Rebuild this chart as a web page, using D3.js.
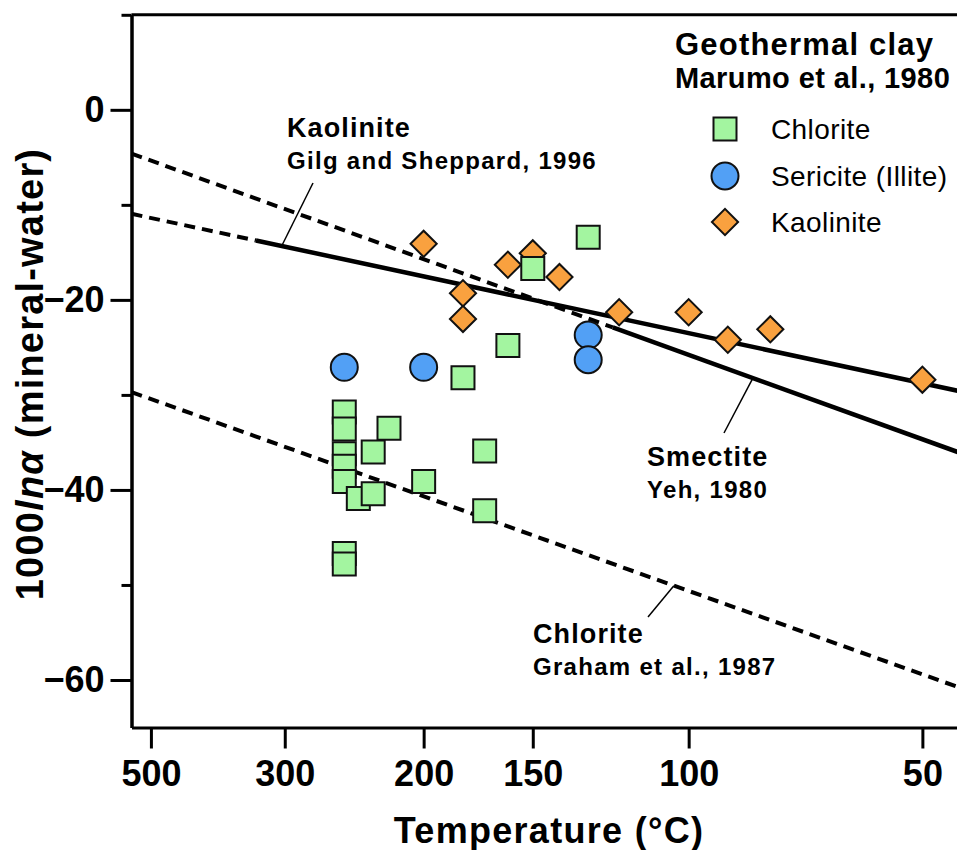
<!DOCTYPE html>
<html>
<head>
<meta charset="utf-8">
<script src="https://cdn.jsdelivr.net/npm/d3@7"></script>
<style>
body { margin: 0; background: #fff; }
svg text { font-family: "Liberation Sans", Arial, Helvetica, sans-serif; fill: #000; }
</style>
</head>
<body>
<svg id="chart" width="957" height="850"></svg>
<script>
// Geothermal clay, Marumo et al. 1980: temperature (degC) and 1000 ln a (mineral-water)
var chloriteT = [250, 250, 250, 250, 250, 250, 250, 240, 230, 230, 220, 200, 180, 170, 170, 160, 150, 130];
var chloriteD = [-31.8, -33.6, -36.2, -37.5, -39.1, -46.7, -47.8, -40.9, -40.4, -36.0, -33.5, -39.1, -28.2, -35.9, -42.2, -24.8, -16.7, -13.4];
var sericiteT = [250, 200, 130, 130];
var sericiteD = [-27.1, -27.1, -23.7, -26.3];
var kaoliniteT = [200, 180, 180, 160, 150, 140, 120, 100, 90, 80, 50];
var kaoliniteD = [-14.1, -19.3, -22.0, -16.3, -15.1, -17.6, -21.3, -21.3, -24.2, -23.1, -28.4];

// calibration lines: 1000 ln a = slope * 10^6/T^2 + icept
var lineNames = ["Kaolinite", "Smectite", "Chlorite"];
var lineRefs = ["Gilg and Sheppard, 1996", "Yeh, 1980", "Graham et al., 1987"];
var lineSlope = [-2.2, -3.71, -3.666];
var lineIcept = [-7.7, 0.86, -24.3];
var lineSolidBelow = [330, 122, -273]; // solid below this T (degC), dashed above
var lineLeaderT = [303, 84, 104];      // where the label leader touches the line

// axis ticks
var tempTicks = [500, 300, 200, 150, 100, 50];
var yTicks = [0, -20, -40, -60];
var yMinor = [10, -10, -30, -50];

var legendNames = ["Chlorite", "Sericite (Illite)", "Kaolinite"];
var colors = ["#a3f5a0", "#52a0f5", "#f9a13f"];

function toV(t) {
    // 10^6 / T^2 with T in kelvin
    var k = t + 273.15;
    return 1e6 / (k * k);
}

var svg = d3.select("#chart");

var x = d3.scaleLinear().domain([1.474, 10.064]).range([131.5, 970]);
var y = d3.scaleLinear().domain([-65, 10]).range([727.5, 14.8]);

// Axes
svg.append("g")
    .attr("transform", "translate(" + x.range()[0] + ",0)")
    .call(d3.axisLeft(y).tickValues(yTicks).tickSize(21).tickSizeOuter(0).tickPadding(6)
        .tickFormat(function (d) { return d < 0 ? "\u2212" + (-d) : d; }));
svg.append("g")
    .attr("transform", "translate(" + x.range()[0] + ",0)")
    .call(d3.axisLeft(y).tickValues(yMinor).tickSize(10).tickSizeOuter(0).tickFormat(""));

svg.append("g")
    .attr("transform", "translate(0," + y.range()[0] + ")")
    .call(d3.axisBottom(x).tickValues(tempTicks.map(toV)).tickSize(21).tickSizeOuter(0).tickPadding(12)
        .tickFormat(function (d, i) { return tempTicks[i]; }));

// top border
svg.append("line")
    .attr("x1", x.range()[0]).attr("x2", 957)
    .attr("y1", y(10)).attr("y2", y(10))
    .attr("stroke", "#000").attr("stroke-width", 3);

svg.selectAll(".domain, .tick line").attr("stroke", "#000").attr("stroke-width", 3);
svg.selectAll(".tick text")
    .style("font-size", "36px").style("font-weight", "bold");

// axis titles
svg.append("text")
    .attr("x", 549).attr("y", 843)
    .attr("text-anchor", "middle")
    .style("font-size", "36px").style("font-weight", "bold")
    .style("letter-spacing", "1.3px")
    .text("Temperature (°C)");

var ytitle = svg.append("text")
    .attr("transform", "translate(43,374) rotate(-90)")
    .attr("text-anchor", "middle")
    .style("font-size", "38px").style("font-weight", "bold")
    .style("letter-spacing", "1.2px");
ytitle.append("tspan").text("1000");
ytitle.append("tspan").style("font-style", "italic").text("lnα");
ytitle.append("tspan").text(" (mineral-water)");

// Calibration lines, dashed outside their range
var v0 = x.domain()[0], v1 = x.domain()[1];
lineNames.forEach(function (name, i) {
    var f = function (v) { return lineSlope[i] * v + lineIcept[i]; };
    var vs = Math.min(Math.max(toV(lineSolidBelow[i]), v0), v1);
    if (vs > v0) {
        svg.append("line")
            .attr("x1", x(v0)).attr("y1", y(f(v0)))
            .attr("x2", x(vs)).attr("y2", y(f(vs)))
            .attr("stroke", "#000").attr("stroke-width", 4)
            .attr("stroke-dasharray", "11,7");
    }
    if (vs < v1) {
        svg.append("line")
            .attr("x1", x(vs)).attr("y1", y(f(vs)))
            .attr("x2", x(v1)).attr("y2", y(f(v1)))
            .attr("stroke", "#000").attr("stroke-width", 4.5);
    }
});

// Labels for the lines
var labelPos = [[287, 137], [647, 466], [533, 643]];
var leaderEnd = [[313, 183], [724, 433], [648, 617]];
lineNames.forEach(function (name, i) {
    var vl = toV(lineLeaderT[i]);
    svg.append("line")
        .attr("x1", x(vl)).attr("y1", y(lineSlope[i] * vl + lineIcept[i]))
        .attr("x2", leaderEnd[i][0]).attr("y2", leaderEnd[i][1])
        .attr("stroke", "#000").attr("stroke-width", 1.5);
    svg.append("text")
        .attr("x", labelPos[i][0]).attr("y", labelPos[i][1])
        .style("font-size", "27px").style("font-weight", "bold")
        .style("letter-spacing", "1.1px")
        .text(name);
    svg.append("text")
        .attr("x", labelPos[i][0]).attr("y", labelPos[i][1] + 32)
        .style("font-size", "24px").style("font-weight", "bold")
        .style("letter-spacing", "1.3px")
        .text(lineRefs[i]);
});

// Markers
var square = d3.symbol().type(d3.symbolSquare).size(23 * 23);
var diamond = d3.symbol().type(d3.symbolSquare).size(18.5 * 18.5);
var circle = d3.symbol().type(d3.symbolCircle).size(Math.PI * 13.5 * 13.5);

function drawPoints(ts, ds, kind, color) {
    var pts = ts.map(function (t, i) { return { t: t, d: ds[i] }; });
    svg.append("g").selectAll("path")
        .data(pts)
        .enter()
        .append("path")
        .attr("fill", color)
        .attr("stroke", "#111")
        .attr("stroke-width", 2)
        .attr("d", kind == "circle" ? circle : (kind == "diamond" ? diamond : square))
        .attr("transform", function (p) {
            return "translate(" + x(toV(p.t)) + "," + y(p.d) + ")" + (kind == "diamond" ? " rotate(45)" : "");
        });
}

drawPoints(kaoliniteT, kaoliniteD, "diamond", colors[2]);
drawPoints(sericiteT, sericiteD, "circle", colors[1]);
drawPoints(chloriteT, chloriteD, "square", colors[0]);

// Legend
svg.append("text")
    .attr("x", 675).attr("y", 55)
    .style("font-size", "31px").style("font-weight", "bold")
    .style("letter-spacing", "1.2px")
    .text("Geothermal clay");
svg.append("text")
    .attr("x", 675).attr("y", 88)
    .style("font-size", "29px").style("font-weight", "bold")
    .style("letter-spacing", "0.4px")
    .text("Marumo et al., 1980");

var kinds = ["square", "circle", "diamond"];
var legendY = [129, 176, 222];
legendNames.forEach(function (name, i) {
    svg.append("path")
        .attr("fill", colors[i]).attr("stroke", "#111").attr("stroke-width", 2)
        .attr("d", kinds[i] == "circle" ? circle : (kinds[i] == "diamond" ? diamond : square))
        .attr("transform", "translate(725," + legendY[i] + ")" + (kinds[i] == "diamond" ? " rotate(45)" : ""));
    svg.append("text")
        .attr("x", 771).attr("y", legendY[i] + 10)
        .style("font-size", "28px")
        .style("letter-spacing", "0.4px")
        .text(name);
});
</script>
</body>
</html>
